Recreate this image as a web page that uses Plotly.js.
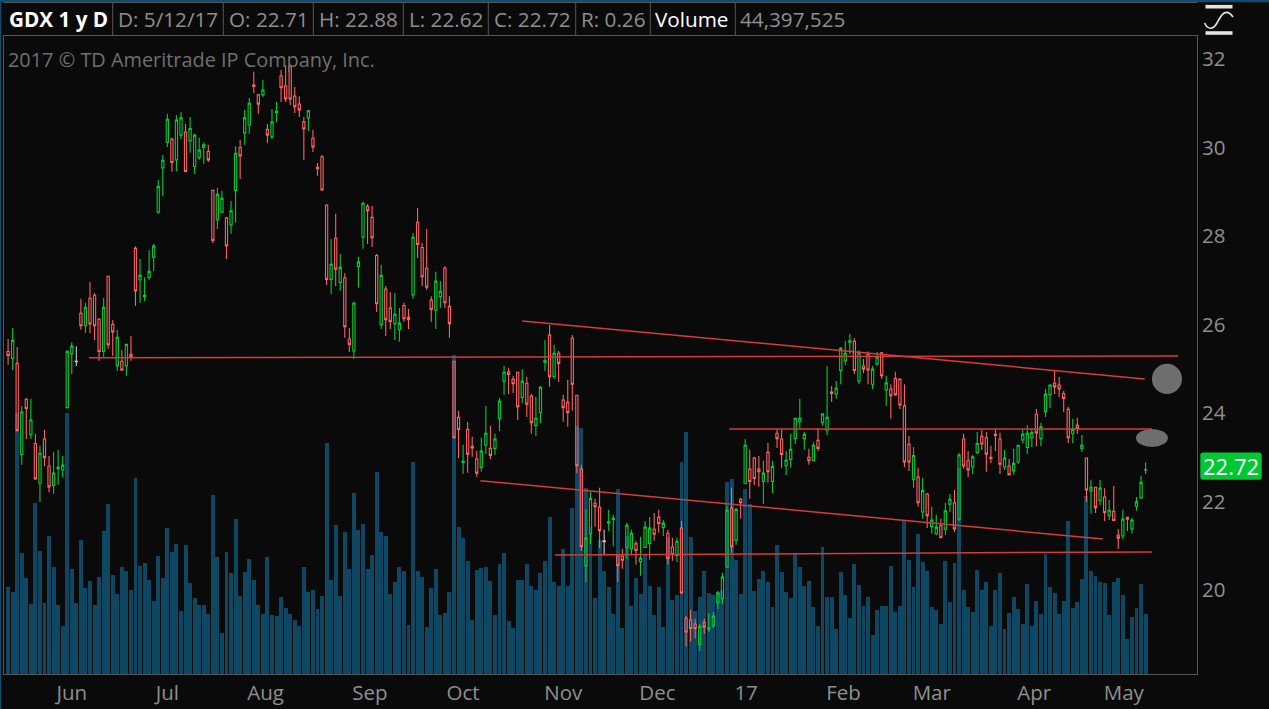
<!DOCTYPE html>
<html><head><meta charset="utf-8">
<script src="https://cdn.plot.ly/plotly-3.0.1.min.js"></script>
<style>html,body{margin:0;padding:0;background:#0a0a0a;overflow:hidden}#c{width:1269px;height:709px}</style>
</head><body><div id="c"></div>
<script>
// Volume in millions of shares, one per session
const volumes = [
64.6,60.9,193,89.8,71.3,52.1,126.8,91.3,52.8,102.4,
79.4,51.3,35.8,193,78,52.8,99.4,63.9,69.1,51.3,
72,106.1,126.1,73.5,59.5,79.4,76.5,62.4,145.3,80.2,
82.4,69.8,54.3,87.6,71.3,108.3,90.5,96.5,46.9,95.7,
67.6,56.5,51.3,51.3,44.7,132.7,86.8,30.6,90.5,75,
115,58,75.7,85.4,69.8,51.3,44.7,86.8,43.9,43.2,
57.2,49.1,44.7,40.2,35.8,79.4,60.9,62.4,48.4,58,
171,69.8,110.5,58,105.3,78,134.2,106.8,111.3,78,
88.3,149.7,105.3,102.4,59.5,68.3,79.4,76.5,36.5,157,
76.5,72,35,63.9,78,43.9,45.4,60.9,236,109,
100.9,83.9,40.2,77.2,78.7,79.4,69.1,43.9,81.7,89.8,
39.5,34.3,69.8,69.8,81.7,65.4,62.4,75,83.9,116.4,
68.3,65.4,92.8,65.4,123.1,183.5,182,137.6,108.5,56.2,
99.2,76.2,64.4,44.4,136.9,34,102.1,50.3,71,59.2,
88.1,65.1,43.7,64.4,34.8,101.4,54.8,58.5,156.9,179.1,
101.4,46.6,57,76.2,59.9,58.5,60.7,62.2,142.1,144.3,
84.4,59.2,136.9,125.8,61.4,70.3,76.2,68.1,49.6,95.5,
75.5,60.7,56.2,89.5,79.2,65.1,68.8,49.6,35.5,94,
57,57,33.3,75.5,58.5,41.4,81.4,65.9,50.6,57.2,
29.1,47.6,50.6,50.6,80.2,46.1,50.6,113.5,84.6,64.6,
103.9,83.1,76.5,49.8,47.6,37.3,83.9,53.5,82.4,152.7,
62.4,49.8,46.1,77.2,62.4,68.3,35.8,62.4,75,33.6,
45.4,57.2,48.4,37.3,66.9,35.8,54.3,44.7,89.1,64.6,
60.2,44.7,54.3,113.5,49.1,53.5,70.6,132,76.5,72.8,
68.3,67.6,43.9,68.3,71.3,58.7,26.2,42.4,49.1,66.9,
44.397525];

const highs = [
25.67,25.92,25.49,24.16,24.34,24.32,23.53,23.26,23.62,23.03,
23.12,23.17,23.03,25.42,25.60,25.51,26.58,26.49,26.96,26.71,
26.12,26.60,27.10,26.10,25.88,25.42,25.56,25.74,27.77,27.48,
27.07,27.68,27.82,29.27,29.83,30.76,30.22,30.73,30.80,30.53,
30.69,30.31,30.22,30.12,30.06,29.04,29.09,29.02,28.43,28.79,
30.03,30.17,30.85,31.12,31.71,31.21,31.53,30.53,30.87,31.03,
31.75,31.86,31.84,31.37,31.16,30.69,30.85,30.40,29.65,29.83,
28.72,27.93,28.50,27.59,27.16,25.92,26.52,27.53,28.77,28.72,
28.68,27.59,27.35,26.87,26.73,26.71,26.37,26.49,26.35,28.07,
28.63,27.84,28.16,26.64,27.19,26.98,27.32,26.64,25.18,24.05,
23.28,23.80,23.46,23.14,23.44,24.16,23.71,23.53,24.34,25.06,
25.02,24.84,24.93,24.99,24.81,24.43,24.36,24.61,25.65,25.99,
25.54,25.40,24.41,24.75,25.76,24.41,22.83,21.83,22.22,22.06,
22.31,21.36,21.81,21.70,20.79,20.93,21.52,21.36,21.11,21.20,
21.56,21.65,21.74,21.81,21.58,21.36,21.18,21.18,21.56,19.41,
19.55,19.35,19.23,19.35,19.48,19.50,19.98,20.39,21.90,22.31,
21.85,22.08,23.41,23.17,23.01,23.03,22.92,23.32,22.92,23.62,
23.62,23.14,23.53,23.89,24.32,23.57,23.19,23.34,23.66,23.99,
25.06,24.61,24.72,25.49,25.63,25.79,25.69,25.42,25.22,25.39,
25.06,25.38,25.38,24.84,24.65,24.93,24.79,24.65,23.48,23.23,
22.76,22.53,22.19,21.88,21.70,21.61,21.97,22.17,22.26,23.10,
23.53,23.14,23.05,23.57,23.62,23.57,23.26,23.62,23.55,23.16,
22.96,23.19,23.28,23.62,23.73,23.64,24.09,23.78,24.54,24.65,
24.96,24.81,24.50,24.14,23.87,23.89,23.50,22.98,22.49,22.33,
22.49,22.30,22.03,22.35,21.38,21.81,21.65,21.63,22.10,22.58,
22.88];

const lows = [
25.09,24.97,23.58,22.83,23.41,23.41,22.49,21.99,22.80,22.21,
22.17,22.38,22.54,24.10,24.88,25.06,25.88,25.81,25.81,25.65,
25.18,25.27,25.45,25.29,24.95,24.95,24.84,25.18,26.42,26.49,
26.53,27.00,27.21,28.50,28.90,30.01,29.45,29.47,30.19,29.45,
29.88,29.40,29.72,29.63,29.67,27.84,28.16,28.52,27.48,28.05,
28.30,29.29,30.06,30.31,31.23,30.76,31.14,30.10,30.19,30.57,
31.03,31.03,30.96,30.78,30.69,29.72,30.37,29.90,29.36,29.02,
26.89,26.69,26.87,26.76,25.70,25.38,25.22,26.83,27.71,27.82,
27.75,26.28,25.90,25.74,25.90,25.65,25.61,26.06,25.90,26.58,
27.50,26.87,26.78,26.06,25.90,26.37,26.37,25.70,23.42,22.98,
22.62,22.65,23.01,22.56,22.67,23.07,22.96,23.05,23.59,24.41,
24.43,24.45,23.84,24.23,23.91,23.53,23.48,23.77,24.95,24.59,
24.77,24.70,23.80,23.69,24.05,22.64,20.88,20.18,21.04,21.43,
20.95,20.81,21.33,20.99,20.18,20.48,20.70,20.81,20.57,20.32,
20.95,20.68,21.11,21.29,21.22,20.57,20.66,20.63,19.91,18.72,
18.83,18.90,18.62,19.01,19.05,19.14,19.57,19.69,20.50,20.84,
21.02,21.61,22.40,22.06,22.37,22.33,21.94,22.42,22.19,23.21,
22.76,22.60,22.76,23.30,23.64,23.17,22.83,22.92,23.14,23.71,
23.50,24.25,24.32,24.65,25.09,25.33,24.88,24.65,24.90,24.65,
24.54,25.06,24.77,24.16,23.87,24.39,24.09,22.78,22.69,22.31,
21.88,21.61,21.40,21.27,21.24,21.18,21.24,21.76,21.31,21.55,
22.74,22.55,22.62,23.07,23.16,22.67,22.87,23.14,22.62,22.71,
22.59,22.60,22.85,23.32,23.07,23.23,23.25,23.25,23.91,24.11,
24.43,24.36,24.02,23.32,23.32,23.53,23.12,21.99,21.72,21.74,
21.92,21.56,21.58,21.56,20.93,21.15,21.33,21.27,21.79,22.06,
22.62];

const bodyTops = [
25.39,25.64,25.12,24.02,24.31,23.84,23.31,23.09,23.41,22.80,
22.64,22.77,22.82,25.39,25.51,25.17,26.25,26.39,26.59,26.66,
26.12,26.39,27.09,26.00,25.71,25.17,25.55,25.33,27.72,27.11,
26.66,27.20,27.77,29.12,29.71,30.64,30.19,30.62,30.67,30.35,
30.43,30.28,29.94,30.06,29.91,29.03,28.94,28.85,28.41,28.57,
29.87,30.00,30.67,31.00,31.41,31.19,31.30,30.41,30.58,30.82,
31.62,31.39,31.84,31.16,30.98,30.58,30.83,30.21,29.55,29.79,
28.70,27.36,27.95,27.29,27.05,25.67,26.48,27.41,28.74,28.67,
28.42,27.56,27.11,26.80,26.37,26.23,26.03,26.43,26.16,27.97,
28.31,27.74,27.27,26.55,26.98,26.75,27.27,26.41,25.17,23.90,
22.91,23.63,23.24,22.96,23.14,23.54,23.20,23.41,24.27,24.92,
24.93,24.76,24.92,24.72,24.67,24.38,23.88,24.58,25.19,25.76,
25.35,25.35,24.29,24.24,25.69,24.40,22.73,21.17,22.07,21.96,
21.87,21.11,21.54,21.62,20.79,20.76,21.46,21.28,21.04,20.72,
21.42,21.40,21.37,21.64,21.51,21.28,20.97,21.10,21.40,19.36,
19.32,19.23,19.18,19.27,19.14,19.41,19.93,20.29,21.80,21.85,
21.82,22.05,23.27,22.73,22.98,22.73,22.64,23.11,22.79,23.54,
23.41,22.93,23.18,23.88,23.88,23.52,23.00,23.27,23.38,23.98,
23.90,24.47,24.56,25.46,25.35,25.63,25.62,25.36,25.06,25.33,
24.99,25.26,25.36,24.68,24.54,24.78,24.76,24.16,23.29,23.04,
22.55,22.25,22.17,21.58,21.42,21.45,21.79,22.05,21.97,23.05,
23.41,22.92,23.01,23.31,23.47,23.44,23.00,23.52,23.41,22.98,
22.80,22.86,23.27,23.52,23.54,23.56,23.97,23.69,24.43,24.63,
24.67,24.63,24.44,24.08,23.63,23.72,23.27,22.98,22.32,22.32,
22.30,22.10,21.80,21.78,21.24,21.60,21.64,21.58,21.99,22.43,
22.72];

const bodyBottoms = [
25.30,25.23,23.60,23.06,24.10,23.51,22.51,22.41,22.99,22.33,
22.36,22.74,22.71,24.12,25.34,25.16,25.97,25.97,26.01,25.97,
25.39,25.39,25.54,25.83,25.07,24.97,25.06,25.27,26.76,27.01,
26.63,27.06,27.52,28.54,29.54,30.12,29.66,29.72,30.28,29.46,
30.15,29.57,29.77,30.00,29.72,27.90,28.36,28.54,27.78,28.25,
29.03,29.81,30.33,30.51,31.38,30.98,31.19,30.28,30.24,30.79,
31.35,31.10,31.10,30.92,30.85,30.42,30.67,30.01,29.52,29.04,
27.02,27.02,27.25,26.95,25.95,25.55,25.40,27.31,27.98,28.57,
27.96,26.47,26.00,26.11,26.07,26.02,25.88,26.13,26.11,26.67,
27.81,27.08,26.84,26.34,26.32,26.63,26.49,26.02,23.44,23.63,
22.88,23.07,23.21,22.64,22.77,23.27,23.04,23.20,23.87,24.72,
24.87,24.66,24.14,24.35,24.20,23.78,23.72,24.01,25.14,24.82,
24.82,25.12,24.12,24.01,24.65,22.81,20.98,20.55,21.27,21.88,
21.34,21.09,21.51,21.59,20.55,20.67,20.96,20.93,20.89,20.64,
20.96,21.05,21.26,21.50,21.41,20.71,20.80,20.78,19.93,19.05,
19.13,19.13,18.76,19.16,19.11,19.19,19.71,19.80,20.52,20.98,
21.12,21.97,22.40,22.45,22.52,22.67,22.45,22.67,22.45,23.42,
23.06,22.81,22.95,23.42,23.80,23.42,22.92,22.92,23.20,23.78,
23.61,24.44,24.43,24.96,25.18,25.60,24.96,24.72,24.99,24.97,
24.65,25.11,24.84,24.52,24.39,24.41,24.18,22.89,22.89,22.49,
21.97,21.76,21.68,21.43,21.27,21.18,21.37,21.94,21.38,21.60,
22.80,22.71,22.78,23.10,23.30,23.07,22.97,23.49,22.84,22.78,
22.60,22.69,22.89,23.39,23.22,23.44,23.55,23.42,24.03,24.41,
24.59,24.54,24.33,23.44,23.53,23.65,23.20,22.26,22.24,21.86,
22.02,21.75,21.68,21.57,21.17,21.22,21.60,21.38,21.89,22.08,
22.71];

// r = close below open, g = close above open, n = unchanged (grey)
const directions =
"rgrgrgrgrr"+"gggggnrgrr"+"rgrrgrgrrg"+"ggggggrggr"+"ggggrrggrg"+
"grggrrgrgg"+"rrrrrrgrrr"+"rgrgrrgggr"+"rrgrrggrrg"+"rrrrggrrrr"+
"grrrggrggg"+"rrrgrrgggr"+"grrrrrrggr"+"rnggrrggrg"+"ggrrgrrgrr"+
"rrgrgggggr"+"grgrrrgrgr"+"rgggggrgrg"+"grggggrgrr"+"ggrgrrrrrg"+
"rgrggrggrg"+"rrggrrrrrg"+"rgggggrggg"+"rrrrgrgrgr"+"grgrrgrggg"+"g";

const monthLabels = ["Jun","Jul","Aug","Sep","Oct","Nov","Dec","17","Feb","Mar","Apr","May"];
const monthSessions = [14,35,56.6,79.5,100,122,142.7,162.2,183.6,203,225.5,245.2];
const priceTicks = [20,22,24,26,28,30,32];

// Drawn trend lines: [session, price] end points
const trendLines = [
  [[17.8,25.25],[257.1,25.29]],
  [[113,26.08],[249.8,24.77]],
  [[158.5,23.64],[251.4,23.64]],
  [[103.8,22.47],[240.6,21.15]],
  [[120.2,20.79],[251.4,20.86]]
];

const headerCells = [
  ["GDX 1 y D",7.5,true],["D: 5/12/17",117,false],["O: 22.71",227.5,false],["H: 22.88",318,false],
  ["L: 22.62",407.5,false],["C: 22.72",492.5,false],["R: 0.26",580,false],["Volume",654,true],["44,397,525",739,false]
];
const headerDividers = [112.7,223.3,313.3,403.3,488.3,575.7,650.3,735.3];

const W=1269,H=709,L=4,R=1197,T=36,B=674;
const px=x=>(x-L)/(R-L), py=y=>(B-y)/(B-T);
const FONT='"Open Sans", sans-serif', GREY='#8f8f8f', DIV='#555555';

const sessions = volumes.map((_,i)=>i);
function candleTrace(keep,inc,dec){
  const idx = sessions.filter(keep);
  return {type:'candlestick',yaxis:'y2',x:idx,
    open:idx.map(i=>directions[i]==='g'?bodyBottoms[i]:bodyTops[i]),
    high:idx.map(i=>highs[i]),low:idx.map(i=>lows[i]),
    close:idx.map(i=>directions[i]==='g'?bodyTops[i]:bodyBottoms[i]),
    increasing:{line:{color:inc,width:1.1},fillcolor:'rgba(0,0,0,0)'},
    decreasing:{line:{color:dec,width:1.1},fillcolor:'rgba(0,0,0,0)'},
    showlegend:false,hoverinfo:'skip'};
}
const traces=[
  {type:'bar',x:sessions,y:volumes,width:0.86,marker:{color:'#0d4761',line:{width:0}},showlegend:false,hoverinfo:'skip'},
  candleTrace(i=>directions[i]!=='n','#00cc33','#ff6060'),
  candleTrace(i=>directions[i]==='n','#c8c8c8','#c8c8c8')
];
trendLines.forEach(l=>traces.push({type:'scatter',mode:'lines',yaxis:'y2',x:l.map(p=>p[0]),y:l.map(p=>p[1]),
  line:{color:'#d93a3a',width:1.5},showlegend:false,hoverinfo:'skip'}));

const pr=(x0,y0,x1,y1,fill)=>({type:'rect',xref:'paper',yref:'paper',x0:px(x0),x1:px(x1),y0:py(y0),y1:py(y1),fillcolor:fill,line:{width:0},layer:'above'});
const pl=(x0,y0,x1,y1,c,w)=>({type:'line',xref:'paper',yref:'paper',x0:px(x0),x1:px(x1),y0:py(y0),y1:py(y1),line:{color:c,width:w},layer:'above'});
const shapes=[
  pr(0,0,W,2.3,'#0f4c6e'), pr(0,0,1.2,H,'#0f4c6e'),
  pl(3.5,2.5,1197,2.5,DIV,1),
  {type:'circle',xref:'x',yref:'y2',x0:251.4,x1:258,y0:24.43,y1:25.11,fillcolor:'#6e6e6e',line:{width:0},layer:'above'},
  {type:'circle',xref:'x',yref:'y2',x0:247.9,x1:254.9,y0:23.23,y1:23.64,fillcolor:'#6e6e6e',line:{width:0},layer:'above'},
  // last-price badge
  {type:'path',xref:'paper',yref:'paper',layer:'above',fillcolor:'#00c832',line:{width:0},
   path:`M ${px(1203)} ${py(452.5)} L ${px(1259)} ${py(452.5)} Q ${px(1261.7)} ${py(452.5)} ${px(1261.7)} ${py(455)} L ${px(1261.7)} ${py(477)} Q ${px(1261.7)} ${py(479.7)} ${px(1259)} ${py(479.7)} L ${px(1203)} ${py(479.7)} Q ${px(1200.3)} ${py(479.7)} ${px(1200.3)} ${py(477)} L ${px(1200.3)} ${py(455)} Q ${px(1200.3)} ${py(452.5)} ${px(1203)} ${py(452.5)} Z`},
  // study icon
  pl(1205.5,6.7,1232.5,6.7,'#e4e4e4',3.6), pl(1205.5,33,1232.5,33,'#e4e4e4',3.6),
  {type:'path',xref:'paper',yref:'paper',layer:'above',line:{color:'#e4e4e4',width:1.6},
   path:`M ${px(1204.5)} ${py(23)} C ${px(1208)} ${py(30)} ${px(1213)} ${py(30)} ${px(1217)} ${py(23)} C ${px(1221)} ${py(15)} ${px(1226)} ${py(7)} ${px(1233)} ${py(17)}`}
];
headerDividers.forEach(x=>shapes.push(pl(x,2.5,x,36,DIV,1)));

const annotations=[
  {xref:'paper',yref:'paper',x:px(6.5),y:py(60),xanchor:'left',yanchor:'middle',text:'2017 © TD Ameritrade IP Company, Inc.',showarrow:false,font:{family:FONT,size:19.9,color:'#6f6f6f'},borderpad:0},
  {xref:'paper',yref:'paper',x:px(1230.5),y:py(466),xanchor:'center',yanchor:'middle',text:'22.72',showarrow:false,font:{family:FONT,size:22,color:'#ffffff'},borderpad:0}
];
headerCells.forEach(c=>annotations.push({xref:'paper',yref:'paper',x:px(c[1]),y:py(19.5),xanchor:'left',yanchor:'middle',
  text:c[0]==="GDX 1 y D"?'<b>'+c[0]+'</b>':c[0],showarrow:false,font:{family:FONT,size:20.7,color:c[2]?'#ffffff':GREY},borderpad:0}));

Plotly.newPlot('c',traces,{
  width:W,height:H,margin:{l:L,r:W-R,t:T,b:H-B,pad:0},
  paper_bgcolor:'#0a0a0a',plot_bgcolor:'#0a0a0a',showlegend:false,hovermode:false,
  boxmode:'overlay',bargap:0,
  xaxis:{range:[-0.9,261.3],tickmode:'array',tickvals:monthSessions,ticktext:monthLabels,showgrid:false,zeroline:false,
    showline:true,linecolor:DIV,linewidth:1,mirror:true,ticks:'',
    tickfont:{family:FONT,size:20.5,color:GREY},rangeslider:{visible:false},fixedrange:true},
  yaxis:{range:[0,472.1],visible:false,fixedrange:true},
  yaxis2:{overlaying:'y',side:'right',range:[18.1,32.52],tickmode:'array',tickvals:priceTicks,ticktext:priceTicks.map(String),
    showgrid:false,zeroline:false,showline:true,linecolor:DIV,linewidth:1,mirror:true,ticks:'',
    tickfont:{family:FONT,size:20.5,color:GREY},fixedrange:true},
  shapes,annotations
},{staticPlot:true,displayModeBar:false});
</script></body></html>
